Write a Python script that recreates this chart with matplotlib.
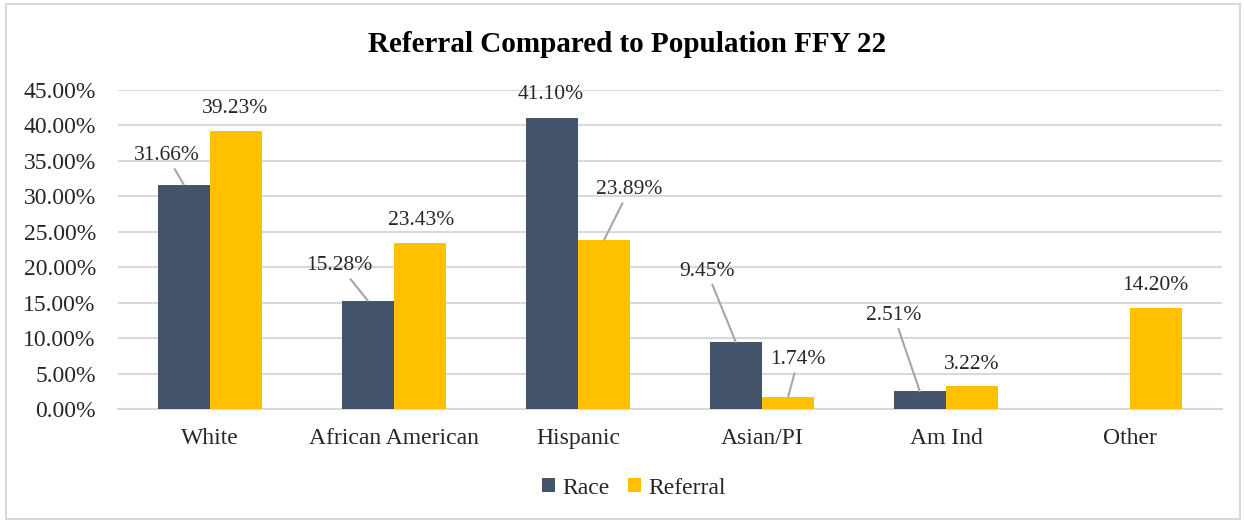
import matplotlib
matplotlib.use("Agg")
import matplotlib.pyplot as plt
from matplotlib.ticker import FuncFormatter, MultipleLocator
from matplotlib.patches import Rectangle
import numpy as np

categories = ["White", "African American", "Hispanic", "Asian/PI", "Am Ind", "Other"]
race = [31.66, 15.28, 41.10, 9.45, 2.51, 0.0]
referral = [39.23, 23.43, 23.89, 1.74, 3.22, 14.20]

# label offsets (pixels) from bar top centre, and whether a leader line is drawn
race_off = [(-17, 29, True), (-28, 35, True), (-1, 23, False), (-29, 71, True), (-26, 76, True), None]
ref_off = [(-1, 22, False), (1, 22, False), (25, 50, True), (10, 37, True), (-1, 22, False), (-1, 23, False)]

C_RACE = "#44546A"
C_REF = "#FFC000"
SERIF = ["Liberation Serif", "DejaVu Serif"]

plt.rcParams["font.family"] = SERIF

fig = plt.figure(figsize=(12.44, 5.22), dpi=100)
fig.patches.append(Rectangle((6 / 1244, 3 / 522), 1234 / 1244, 515 / 522, transform=fig.transFigure,
                             fill=False, edgecolor="#D9D9D9", linewidth=1.5))
ax = fig.add_axes([118 / 1244, 1 - 409 / 522, 1104 / 1244, (409 - 90) / 522])

x = np.arange(len(categories))
w = 0.285
b1 = ax.bar(x - w / 2, race, w, color=C_RACE, zorder=3, label="Race")
b2 = ax.bar(x + w / 2, referral, w, color=C_REF, zorder=3, label="Referral")

def label(bars, vals, offs):
    for bar, v, off in zip(bars, vals, offs):
        if off is None:
            continue
        dx, dy, line = off
        xc = bar.get_x() + bar.get_width() / 2
        kw = {}
        if line:
            kw["arrowprops"] = dict(arrowstyle="-", color="#A6A6A6", lw=1.5, shrinkA=1, shrinkB=0)
        ax.annotate(f"{v:.2f}%", xy=(xc, v), xytext=(dx, dy), textcoords="offset pixels",
                    ha="center", va="center", fontsize=15.5, color="#262626", zorder=4, **kw)

label(b1, race, race_off)
label(b2, referral, ref_off)

ax.set_xlim(-0.5, len(categories) - 0.5)
ax.set_ylim(0, 45)
ax.yaxis.set_major_locator(MultipleLocator(5))
ax.yaxis.set_major_formatter(FuncFormatter(lambda v, p: f"{v:.2f}%"))
ax.set_xticks(x)
ax.set_xticklabels(categories)
ax.tick_params(axis="both", length=0, labelsize=17, colors="#262626")
ax.tick_params(axis="x", pad=14)
ax.tick_params(axis="y", pad=16)
ax.grid(axis="y", color="#D9D9D9", linewidth=1.5, zorder=0)
for s in ["top", "right", "left"]:
    ax.spines[s].set_visible(False)
ax.spines["bottom"].set_color("#D9D9D9")
ax.spines["bottom"].set_linewidth(1.5)

fig.text(627 / 1244, 1 - 44 / 522, "Referral Compared to Population FFY 22", ha="center", va="center",
         fontsize=21, fontweight="bold", color="#000000")

fig.legend(handles=[b1, b2], labels=["Race", "Referral"], loc="center", bbox_to_anchor=(634 / 1244, 1 - 488 / 522),
           ncol=2, frameon=False, fontsize=17, handlelength=0.55, handleheight=0.55, handletextpad=0.3,
           columnspacing=0.8, labelcolor="#262626")

fig.savefig("out.png", dpi=100)
